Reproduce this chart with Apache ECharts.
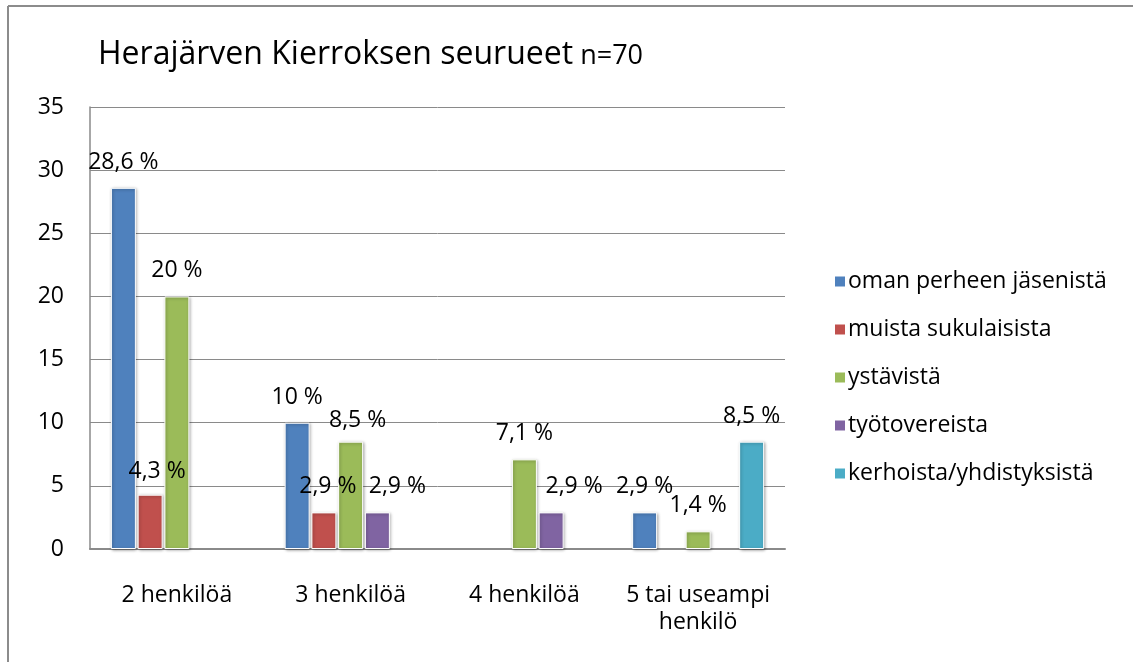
<!DOCTYPE html>
<html>
<head>
<meta charset="utf-8">
<script src="https://cdn.jsdelivr.net/npm/echarts@6/dist/echarts.min.js"></script>
<style>
html,body{margin:0;padding:0;background:#fff;}
#c{width:1133px;height:662px;}
</style>
</head>
<body>
<div id="c"></div>
<script>
const categories = ['2 henkilöä', '3 henkilöä', '4 henkilöä', '5 tai useampi\nhenkilö'];
const seriesNames = ['oman perheen jäsenistä', 'muista sukulaisista', 'ystävistä', 'työtovereista', 'kerhoista/yhdistyksistä'];
const omanPerheen = [28.6, 10, null, 2.9];
const muistaSukulaisista = [4.3, 2.9, null, null];
const ystavista = [20, 8.5, 7.1, 1.4];
const tyotovereista = [null, 2.9, 2.9, null];
const kerhoista = [null, null, null, 8.5];
const yTicks = [0, 5, 10, 15, 20, 25, 30, 35];

const colors = ['#4F81BD', '#C0504D', '#9BBB59', '#8064A2', '#4BACC6'];
// manual label nudges (series index -> category index -> [dx, dy])
const labelNudges = {
  1: {0: [7, 2], 1: [4, 0]},
  2: {1: [7, 4]},
  3: {1: [20, 0], 2: [23, 0]}
};
const FONT = '"Open Sans", sans-serif';
const allValues = [omanPerheen, muistaSukulaisista, ystavista, tyotovereista, kerhoista];

const series = allValues.map((vals, si) => ({
  name: seriesNames[si],
  type: 'bar',
  barWidth: 25,
  barGap: '7%',
  itemStyle: {
    color: colors[si],
    borderColor: '#ffffff',
    borderWidth: 1,
    shadowColor: 'rgba(0,0,0,0.35)',
    shadowBlur: 3,
    shadowOffsetX: 1,
    shadowOffsetY: 1
  },
  label: {
    show: true,
    position: 'top',
    distance: 14,
    color: '#000',
    fontFamily: FONT,
    fontSize: 23,
    formatter: p => String(p.value).replace('.', ',') + ' %'
  },
  data: vals.map((v, ci) => {
    const n = labelNudges[si] && labelNudges[si][ci];
    if (v === null) return null;
    return n ? {value: v, label: {offset: n}} : v;
  })
}));

const chart = echarts.init(document.getElementById('c'));
chart.setOption({
  animation: false,
  backgroundColor: '#fff',
  color: colors,
  title: {
    left: 93,
    top: 29,
    text: '{a|Herajärven Kierroksen seurueet} {b|n=70}',
    textStyle: {
      fontWeight: 'normal',
      rich: {
        a: {fontFamily: FONT, fontSize: 32, fontWeight: 'normal', color: '#000', lineHeight: 42},
        b: {fontFamily: FONT, fontSize: 27, fontWeight: 'normal', color: '#000', lineHeight: 42, padding: [3, 0, 0, 2]}
      }
    }
  },
  legend: {
    orient: 'vertical',
    left: 828,
    top: 265,
    itemWidth: 12,
    itemHeight: 12,
    itemGap: 25,
    icon: 'rect',
    textStyle: {fontFamily: FONT, fontSize: 23, color: '#000', lineHeight: 23, padding: [0, 0, 0, -3]},
    data: seriesNames
  },
  grid: {left: 90, right: 348, top: 107, bottom: 113, containLabel: false},
  xAxis: {
    type: 'category',
    data: categories,
    axisLine: {show: true, lineStyle: {color: '#8A8A8A', width: 2}},
    axisTick: {show: false},
    axisLabel: {fontFamily: FONT, fontSize: 23, color: '#000', margin: 33, lineHeight: 27, interval: 0}
  },
  yAxis: {
    type: 'value',
    min: yTicks[0],
    max: yTicks[yTicks.length - 1],
    interval: yTicks[1] - yTicks[0],
    axisLine: {show: true, lineStyle: {color: '#8A8A8A', width: 1.5}},
    axisTick: {show: false},
    splitLine: {show: true, lineStyle: {color: '#8A8A8A', width: 1}},
    axisLabel: {fontFamily: FONT, fontSize: 23, color: '#000', margin: 26}
  },
  graphic: [
    {type: 'line', shape: {x1: 8, y1: 6, x2: 1133, y2: 6}, style: {stroke: '#8C8C8C', lineWidth: 2}},
    {type: 'line', shape: {x1: 8, y1: 6, x2: 8, y2: 662}, style: {stroke: '#8C8C8C', lineWidth: 2}}
  ],
  series: series
});
</script>
</body>
</html>
